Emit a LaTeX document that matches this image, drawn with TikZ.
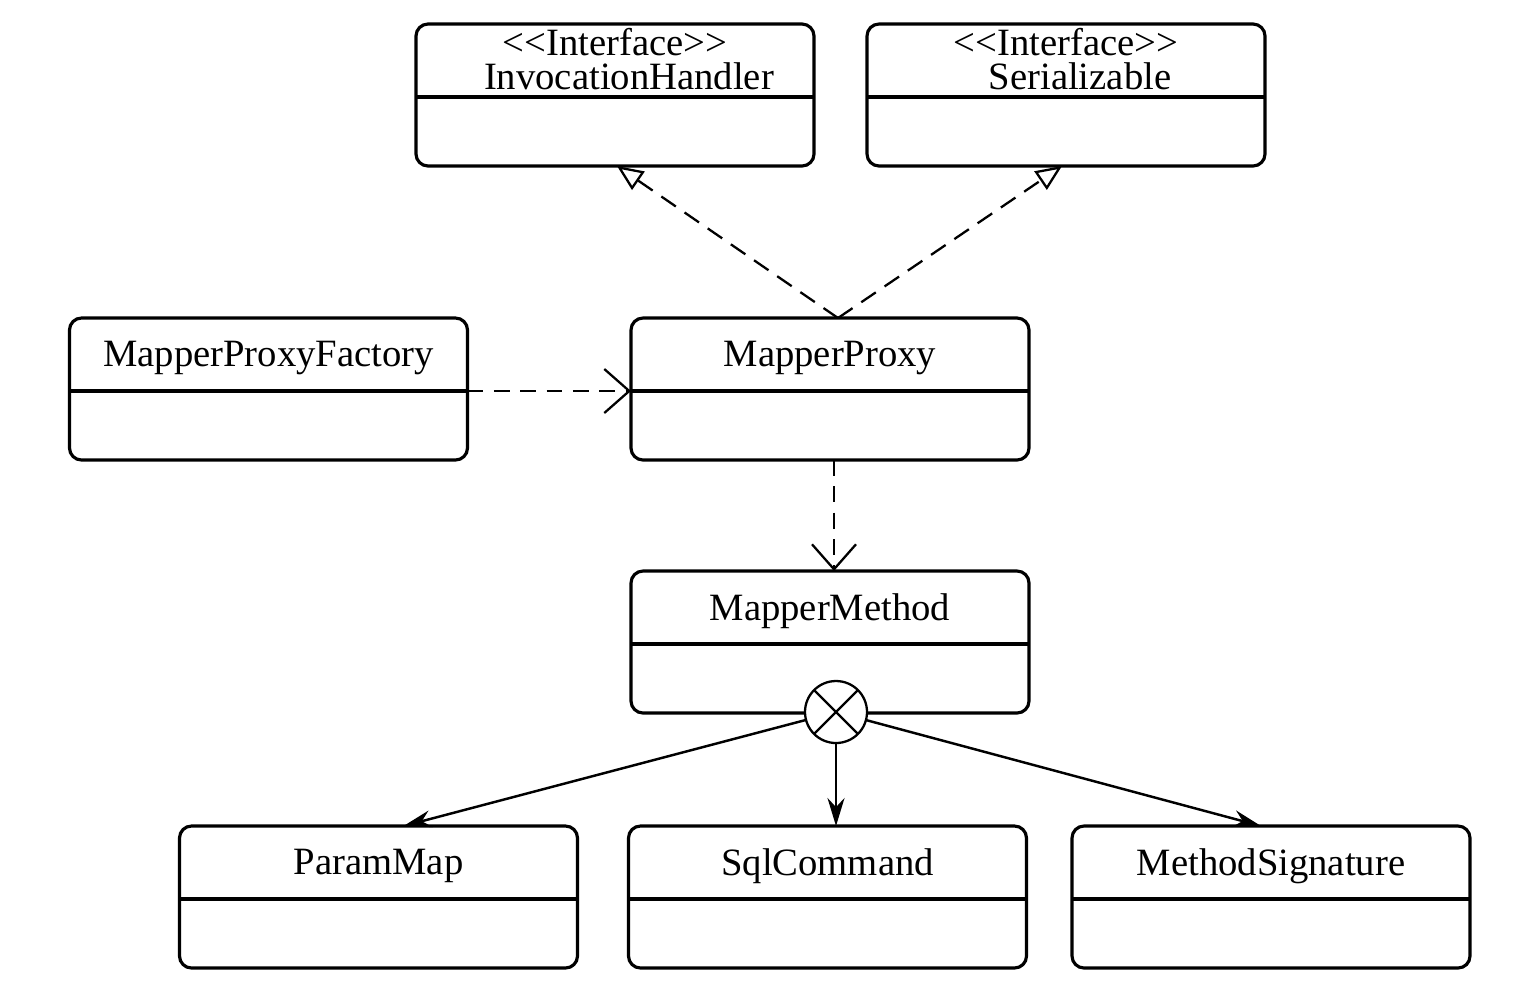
\documentclass[tikz,border=0pt]{standalone}
\usepackage{fontspec}
\setmainfont{Liberation Serif}
\usetikzlibrary{arrows.meta}
\newcommand{\lchev}{<\kern0pt<}
\newcommand{\rchev}{>\kern0pt>}

\begin{document}
\begin{tikzpicture}
  [every node/.style={font=\fontsize{11}{9.6}\selectfont,inner sep=0pt,outer sep=0pt},
   classbox/.style={draw,line width=0.9pt,rounded corners=0.12cm,minimum width=3.98cm,minimum height=1.42cm},
   realize/.style={line width=0.65pt,dash pattern=on 5pt off 3pt,-{Triangle[open,length=0.26cm,width=0.22cm]}},
   depend/.style={line width=0.65pt,dash pattern=on 4.5pt off 3pt,-{Straight Barb[length=0.25cm,width=0.44cm]}},
   navig/.style={line width=0.7pt,-{Stealth[length=0.28cm,width=0.17cm]}},
   agg/.style={circle,draw,line width=0.65pt,fill=white,minimum size=0.62cm}]
  \useasboundingbox (0,0) rectangle (15.16,-9.98);

  \foreach \n/\x/\y in {ih/6.15/-0.95,ser/10.66/-0.95,fac/2.685/-3.89,proxy/8.30/-3.89,
                        method/8.30/-6.42,param/3.785/-8.97,sql/8.275/-8.97,sig/12.71/-8.97}
  {
    \node[classbox] (\n) at (\x,\y) {};
    \draw[line width=0.9pt] ([yshift=-0.73cm]\n.north west) -- ([yshift=-0.73cm]\n.north east);
  }

  \foreach \n/\dy/\t in {ih/-0.35/{\lchev Interface\rchev\\\hspace*{0.28cm}InvocationHandler},
                         ser/-0.35/{\lchev Interface\rchev\\\hspace*{0.28cm}Serializable},
                         fac/-0.40/MapperProxyFactory,proxy/-0.40/MapperProxy,method/-0.40/MapperMethod,
                         param/-0.40/ParamMap,sql/-0.40/SqlCommand,sig/-0.40/MethodSignature}
    \node[align=center] (\n-t) at ([yshift=\dy cm]\n.north) {\t};

  \draw[realize] ([xshift=0.08cm]proxy.north) -- ([xshift=0.02cm]ih.south);
  \draw[realize] ([xshift=0.08cm]proxy.north) -- ([xshift=-0.04cm]ser.south);
  \draw[depend] ([yshift=-0.73cm]fac.north east) -- ([yshift=-0.73cm]proxy.north west);
  \draw[depend] ([xshift=0.04cm]proxy.south) -- ([xshift=0.04cm]method.north);

  \node[agg] (agg) at (8.36,-7.12) {};
  \draw[line width=0.65pt] (agg.north west) -- (agg.south east) (agg.north east) -- (agg.south west);

  \draw[navig] (agg) -- ([xshift=0.25cm]param.north);
  \draw[navig] (agg) -- (agg.south |- sql.north);
  \draw[navig] (agg) -- ([xshift=-0.1cm]sig.north);

\end{tikzpicture}
\end{document}
